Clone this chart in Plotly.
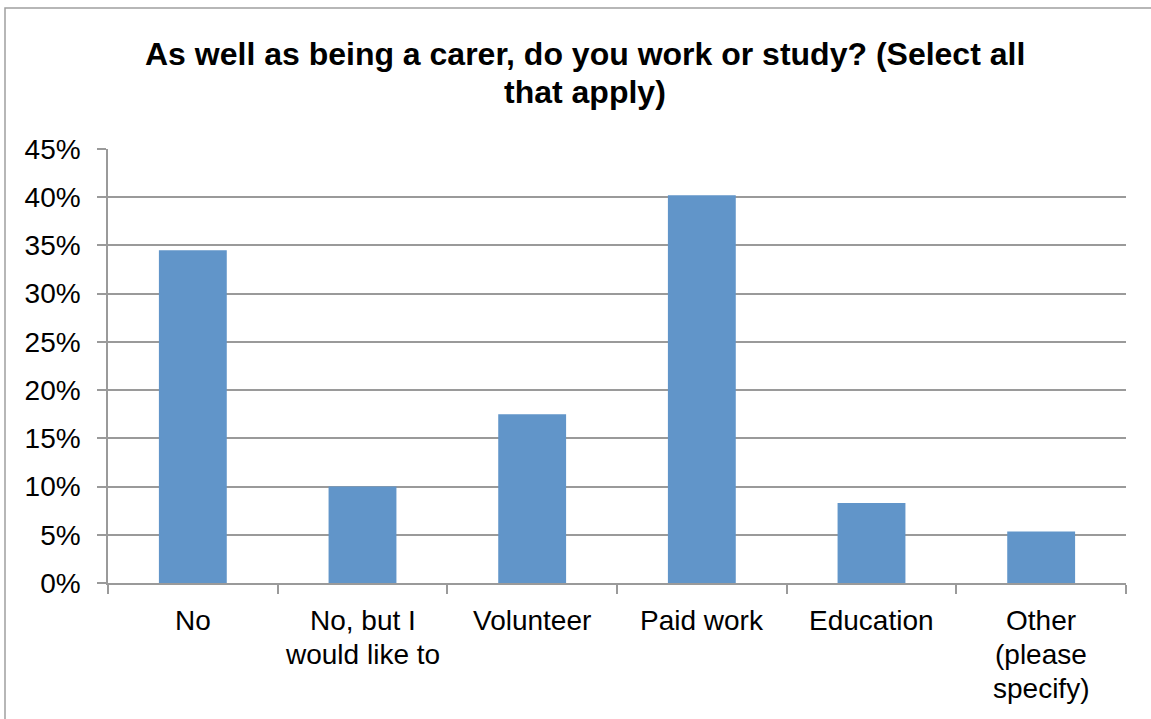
import plotly.graph_objects as go

categories = ["No", "No, but I<br>would like to", "Volunteer", "Paid work", "Education", "Other<br>(please<br>specify)"]
values = [34.5, 10.0, 17.5, 40.2, 8.3, 5.35]
y_ticks = [0, 5, 10, 15, 20, 25, 30, 35, 40, 45]
title_lines = ["As well as being a carer, do you work or study? (Select all", "that apply)"]

W, H = 1151, 719
L, R, T, B = 108, 1126, 149, 583
pw, ph = R - L, B - T

def px_x(x):
    return (x - L) / pw

def px_y(y):
    return (B - y) / ph

FONT = "Arial, Liberation Sans, sans-serif"
GRID = "#9a9a9a"

fig = go.Figure(go.Bar(x=categories, y=values, marker=dict(color="#6195C9", line=dict(width=0))))

fig.update_layout(
    width=W, height=H,
    margin=dict(l=L, r=W - R, t=T, b=H - B, autoexpand=False),
    paper_bgcolor="white", plot_bgcolor="white",
    bargap=0.6,
    showlegend=False,
    font=dict(family=FONT, size=28, color="black"),
)
fig.update_xaxes(
    type="category", tickson="boundaries", ticks="outside", ticklen=9, tickwidth=1.5,
    tickcolor=GRID, showline=True, linecolor=GRID, linewidth=1.5,
    showgrid=False, showticklabels=False,
)
fig.update_yaxes(
    range=[0, 45], tickvals=y_ticks, ticktext=[f"{v}%" for v in y_ticks],
    ticks="outside", ticklen=9, tickwidth=1.5, tickcolor=GRID,
    showline=True, linecolor=GRID, linewidth=1.5,
    showgrid=True, gridcolor=GRID, gridwidth=1.5, zeroline=False,
    tickfont=dict(size=28, family=FONT, color="black"),
    ticklabelstandoff=11,
)

# category labels, one annotation per line for Excel-like line spacing
for cat in categories:
    for i, line in enumerate(cat.split("<br>")):
        fig.add_annotation(text=line, x=cat, xref="x", yref="paper", y=px_y(620 + 34 * i),
                           xanchor="center", yanchor="middle", showarrow=False,
                           font=dict(family=FONT, size=28, color="black"))

fig.add_annotation(text=title_lines[0], xref="paper", yref="paper", x=px_x(585), y=px_y(54),
                   xanchor="center", yanchor="middle", showarrow=False,
                   font=dict(family=FONT, size=32, color="black", weight="bold"))
fig.add_annotation(text=title_lines[1], xref="paper", yref="paper", x=px_x(585), y=px_y(92),
                   xanchor="center", yanchor="middle", showarrow=False,
                   font=dict(family=FONT, size=32, color="black", weight="bold"))

fig.add_shape(type="rect", xref="paper", yref="paper",
              x0=px_x(5), x1=px_x(W + 10), y0=px_y(H + 10), y1=px_y(8),
              line=dict(color="#a0a0a0", width=1.5), fillcolor="rgba(0,0,0,0)", layer="below")

fig.write_html("out.html")
